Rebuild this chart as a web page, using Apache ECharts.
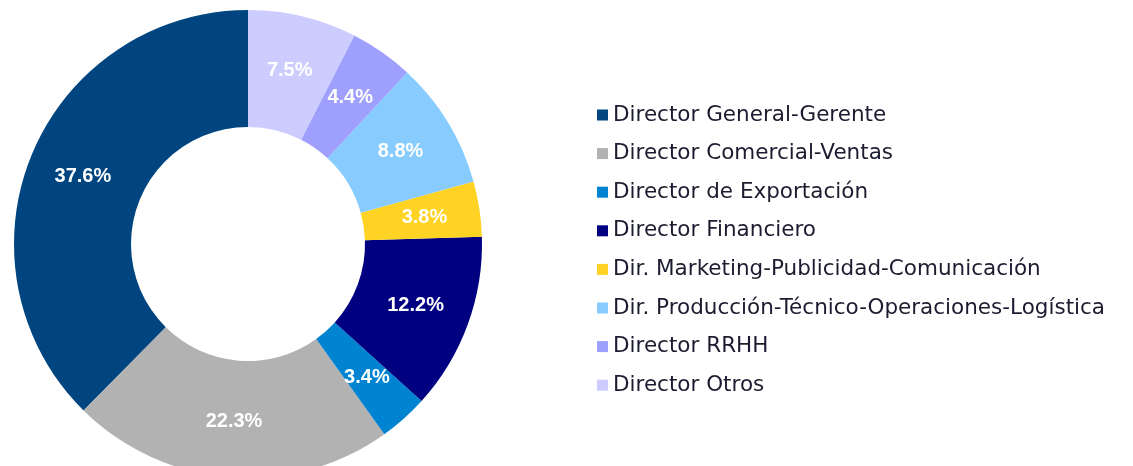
<!DOCTYPE html>
<html>
<head>
<meta charset="utf-8">
<style>
  html, body { margin: 0; padding: 0; background: #ffffff; }
  #chart { width: 1133px; height: 466px; }
</style>
<script src="https://cdn.jsdelivr.net/npm/echarts@6/dist/echarts.min.js"></script>
</head>
<body>
<div id="chart"></div>
<script>
// categories (legend order)
const categories = [
  "Director General-Gerente",
  "Director Comercial-Ventas",
  "Director de Exportación",
  "Director Financiero",
  "Dir. Marketing-Publicidad-Comunicación",
  "Dir. Producción-Técnico-Operaciones-Logística",
  "Director RRHH",
  "Director Otros"
];
// share in %
const values = [37.6, 22.3, 3.4, 12.2, 3.8, 8.8, 4.4, 7.5];
const colors = ["#00457f", "#b2b2b2", "#0084d1", "#000080", "#ffd324", "#88ccff", "#9f9ffe", "#ccccff"];

let chart = echarts.init(document.getElementById("chart"));

let pieData = categories.map((name, i) => {
  return { name: name, value: values[i], itemStyle: { color: colors[i] } };
});

let option = {
  backgroundColor: "#ffffff",
  animation: false,
  legend: {
    orient: "vertical",
    left: 592,
    top: 99,
    icon: "rect",
    itemWidth: 11,
    itemHeight: 11,
    itemGap: 16.6,
    itemStyle: { borderWidth: 0 },
    textStyle: {
      fontFamily: "DejaVu Sans",
      fontSize: 21.5,
      lineHeight: 21,
      color: "#1c1c30"
    },
    data: categories
  },
  series: [
    {
      type: "pie",
      center: [248, 244],
      radius: [117, 234],
      startAngle: 90,
      clockwise: false,
      avoidLabelOverlap: false,
      label: {
        show: true,
        position: "inside",
        formatter: (p) => p.value.toFixed(1) + "%",
        color: "#ffffff",
        fontFamily: "Liberation Sans",
        fontWeight: "bold",
        fontSize: 20
      },
      labelLine: { show: false },
      emphasis: { disabled: true },
      data: pieData
    }
  ]
};

chart.setOption(option);
</script>
</body>
</html>
